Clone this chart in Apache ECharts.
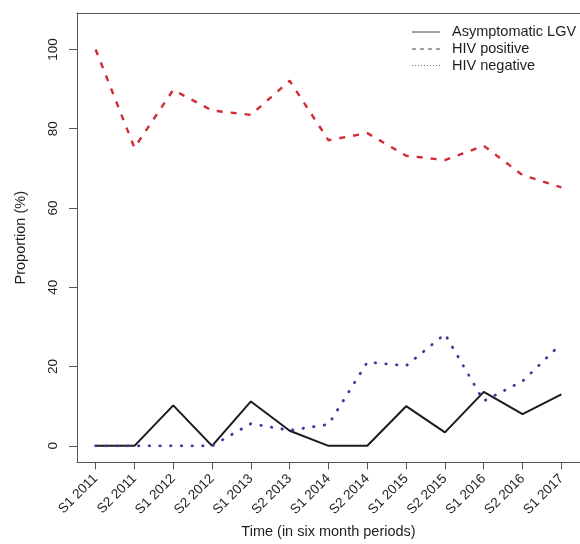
<!DOCTYPE html>
<html>
<head>
<meta charset="utf-8">
<title>Asymptomatic LGV and HIV status over time</title>
<script src="https://cdn.jsdelivr.net/npm/echarts@6/dist/echarts.min.js"></script>
<style>
  html, body { margin: 0; padding: 0; background: #ffffff; }
  #chart { width: 580px; height: 544px; }
</style>
</head>
<body>
<div id="chart"></div>
<script>
// Six-month periods shown on the x axis
const periods = ['S1 2011', 'S2 2011', 'S1 2012', 'S2 2012', 'S1 2013', 'S2 2013', 'S1 2014',
                 'S2 2014', 'S1 2015', 'S2 2015', 'S1 2016', 'S2 2016', 'S1 2017'];

// Proportions (%) per period
const asymptomaticLGV = [0, 0, 10.2, 0, 11.2, 3.8, 0, 0, 10, 3.4, 13.6, 8, 13];
const hivPositive     = [100, 75.2, 89.8, 84.6, 83.5, 92.1, 77.1, 78.9, 73.2, 72.1, 75.7, 68.3, 65.2];
const hivNegative     = [0, 0, 0, 0, 5.6, 3.9, 5.4, 21.1, 20.2, 28.2, 11.3, 16.3, 25.8];

// Y axis tick values
const yTicks = [0, 20, 40, 60, 80, 100];

const seriesNames = ['Asymptomatic LGV', 'HIV positive', 'HIV negative'];

// positions 1..n along the x axis
const xPos = periods.map((_, i) => i + 1);
const toPairs = arr => arr.map((v, i) => [i + 1, v]);

const FONT = '"Liberation Sans", Arial, sans-serif';
const TEXT = '#1e1e1e';
const FRAME = '#555555';
const X_MIN = 0.52, X_MAX = 13.48;

const chart = echarts.init(document.getElementById('chart'), null, { renderer: 'canvas' });

chart.setOption({
  backgroundColor: '#ffffff',
  animation: false,
  grid: { left: 77, top: 13, right: -4, height: 453.5 },
  xAxis: [
    {
      type: 'value',
      position: 'bottom',
      min: X_MIN, max: X_MAX,
      axisLine: { show: true, onZero: false, lineStyle: { color: FRAME, width: 1 } },
      splitLine: { show: false },
      axisTick: { show: true, length: 7, lineStyle: { color: FRAME, width: 1 }, customValues: xPos },
      axisLabel: {
        customValues: xPos,
        rotate: 45,
        margin: 14,
        fontFamily: FONT, fontSize: 13.5, color: TEXT,
        formatter: v => periods[Math.round(v) - 1] || ''
      },
      name: 'Time (in six month periods)',
      nameLocation: 'middle',
      nameGap: 52,
      nameTextStyle: { fontFamily: FONT, fontSize: 14.5, color: TEXT }
    },
    {
      // top edge of the plot frame
      type: 'value',
      position: 'top',
      min: X_MIN, max: X_MAX,
      axisLine: { show: true, onZero: false, lineStyle: { color: FRAME, width: 1 } },
      axisTick: { show: false },
      axisLabel: { show: false },
      splitLine: { show: false }
    }
  ],
  yAxis: {
    type: 'value',
    min: -4.2, max: 109.2,
    axisLine: { show: true, onZero: false, lineStyle: { color: FRAME, width: 1 } },
    splitLine: { show: false },
    axisTick: { show: true, length: 8, lineStyle: { color: FRAME, width: 1 }, customValues: yTicks },
    axisLabel: {
      customValues: yTicks,
      rotate: 90,
      margin: 17,
      fontFamily: FONT, fontSize: 13.5, color: TEXT
    },
    name: 'Proportion (%)',
    nameLocation: 'middle',
    nameGap: 49,
    nameTextStyle: { fontFamily: FONT, fontSize: 14.5, color: TEXT }
  },
  series: [
    {
      name: seriesNames[0], type: 'line', data: toPairs(asymptomaticLGV),
      symbol: 'none', clip: false,
      lineStyle: { color: '#1b1b1b', width: 2 }
    },
    {
      name: seriesNames[1], type: 'line', data: toPairs(hivPositive),
      symbol: 'none', clip: false,
      lineStyle: { color: '#cf2c36', width: 2.4, type: [6, 8] }
    },
    {
      name: seriesNames[2], type: 'line', data: toPairs(hivNegative),
      symbol: 'none', clip: false,
      lineStyle: { color: '#3b3b9e', width: 2.8, type: [0.5, 10.2], cap: 'round' }
    }
  ],
  graphic: [
    // key in the upper right corner
    { type: 'line', shape: { x1: 412, y1: 32, x2: 440, y2: 32 }, style: { stroke: '#444', lineWidth: 1 } },
    { type: 'line', shape: { x1: 412, y1: 49, x2: 440, y2: 49 }, style: { stroke: '#444', lineWidth: 1, lineDash: [4, 4] } },
    { type: 'line', shape: { x1: 412, y1: 65.5, x2: 440, y2: 65.5 }, style: { stroke: '#777', lineWidth: 1, lineDash: [1, 2] } },
    { type: 'text', x: 452, y: 32, style: { text: seriesNames[0], font: '14.5px ' + FONT, fill: TEXT, verticalAlign: 'middle' } },
    { type: 'text', x: 452, y: 49, style: { text: seriesNames[1], font: '14.5px ' + FONT, fill: TEXT, verticalAlign: 'middle' } },
    { type: 'text', x: 452, y: 65.5, style: { text: seriesNames[2], font: '14.5px ' + FONT, fill: TEXT, verticalAlign: 'middle' } }
  ]
});
</script>
</body>
</html>
